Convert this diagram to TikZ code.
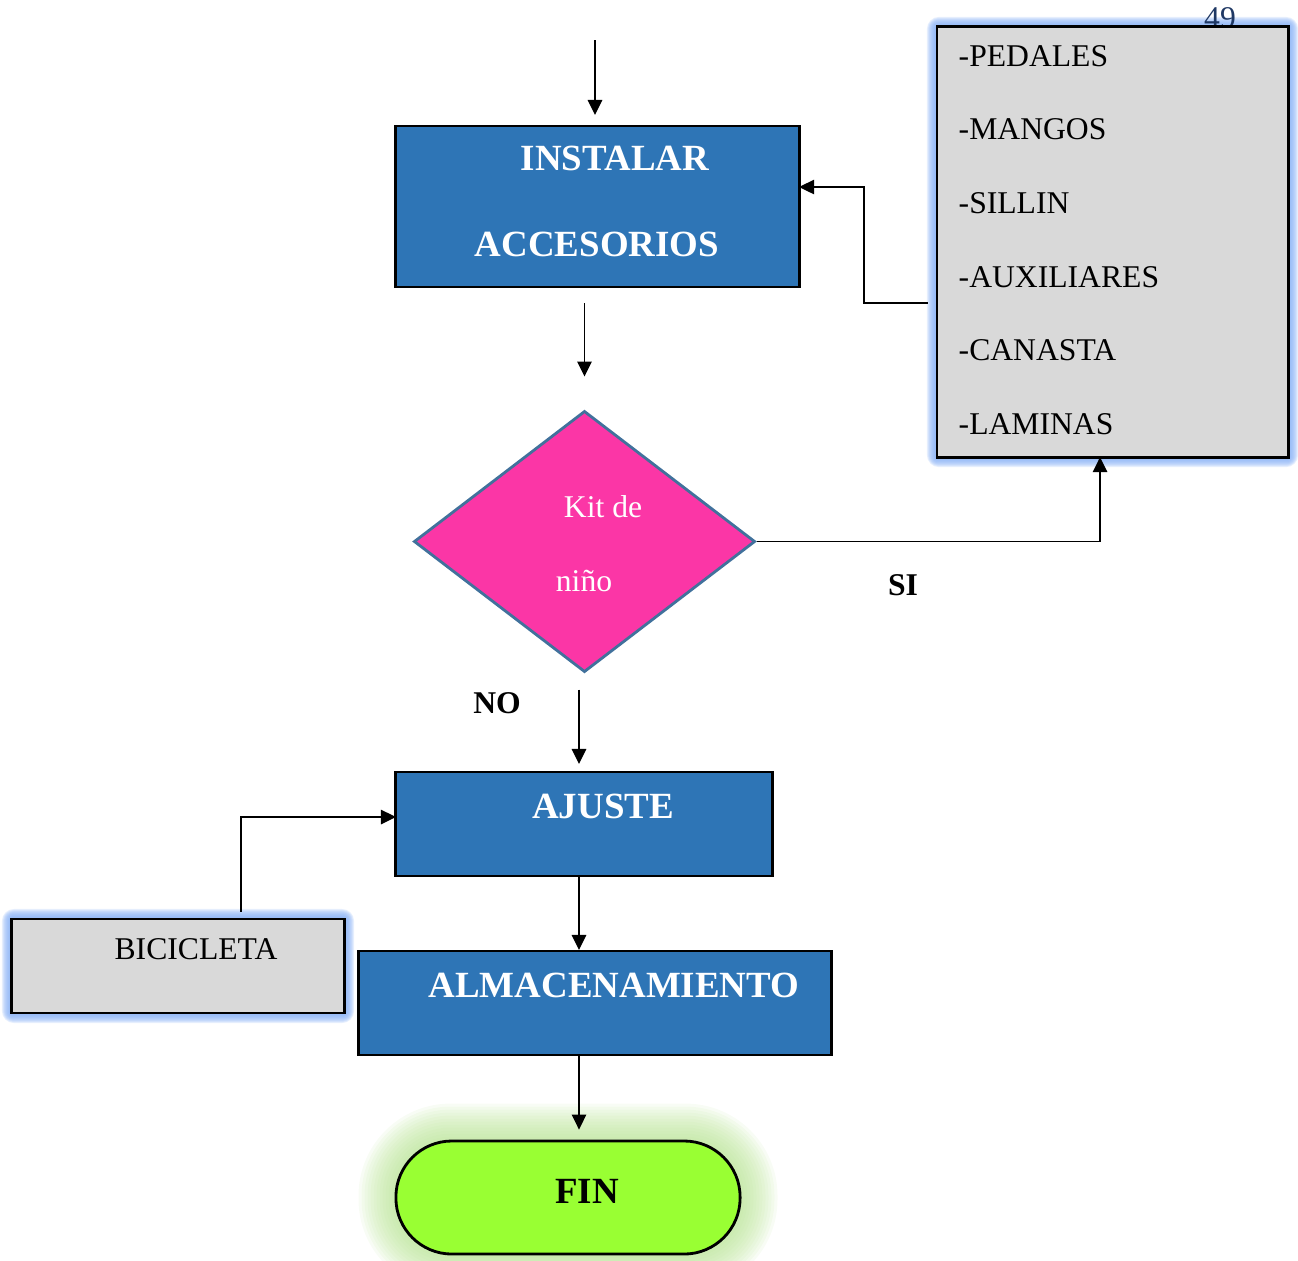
\documentclass[tikz,border=0pt]{standalone}
\usepackage{fontspec}
\setmainfont{Liberation Serif}
\usetikzlibrary{shapes.geometric,arrows.meta,backgrounds,calc}

\definecolor{azulcaja}{HTML}{2E75B6}
\definecolor{rosa}{HTML}{FB36A6}
\definecolor{bordediamante}{HTML}{41719C}
\definecolor{gris}{HTML}{D9D9D9}
\definecolor{verde}{HTML}{99FF33}
\definecolor{brilloazul}{HTML}{8AB2F6}
\definecolor{brilloverde}{HTML}{B4E28E}
\definecolor{pagina}{HTML}{1F3864}

\tikzset{
	caja/.style={draw=black, line width=0.8pt, fill=azulcaja, inner sep=0pt, outer sep=0pt},
	cajagris/.style={draw=black, line width=0.8pt, fill=gris, inner sep=0pt, outer sep=0pt},
	titulo/.style={text=white, inner sep=0pt, font=\fontsize{10.5}{12}\selectfont\bfseries},
	texto/.style={inner sep=0pt, font=\fontsize{9}{11}\selectfont},
	etiqueta/.style={inner sep=0pt, font=\fontsize{9}{11}\selectfont\bfseries},
	flecha/.style={line width=0.37pt, -{Triangle[length=1.5mm,width=1.45mm]}},
}

\begin{document}
\begin{tikzpicture}[x=0.01cm, y=-0.01cm]
\useasboundingbox (0,0) rectangle (1298,1260);

\node[texto, text=pagina] (pag) at (1220,18) {49};

\node[caja, minimum width=4.03cm, minimum height=1.61cm] (inst) at (597.5,206.5) {};
\node[titulo] (inst1) at (615,158) {INSTALAR};
\node[titulo] (inst2) at (597,244) {ACCESORIOS};

\node[diamond, draw=bordediamante, line width=0.8pt, fill=rosa, inner sep=0pt,
	minimum width=3.41cm, minimum height=2.61cm] (kit) at (584.5,541.5) {};
\node[texto, text=white] (kit1) at (603,507) {Kit de};
\node[texto, text=white] (kit2) at (584,581) {niño};

\node[caja, minimum width=3.76cm, minimum height=1.04cm] (ajuste) at (584,824) {};
\node[titulo] (ajuste1) at (603,806) {AJUSTE};

\node[caja, minimum width=4.72cm, minimum height=1.04cm] (alm) at (595,1003) {};
\node[titulo] (alm1) at (614,985) {ALMACENAMIENTO};

\node[draw=black, line width=0.8pt, fill=verde, rounded corners=5.6mm, inner sep=0pt,
	minimum width=3.44cm, minimum height=1.13cm] (fin) at (568,1197.5) {};
\node[titulo, text=black] (fin1) at (587,1191) {FIN};

\node[cajagris, minimum width=3.32cm, minimum height=0.94cm] (bici) at (178,966) {};
\node[texto] (bici1) at (196,949.5) {BICICLETA};

\node[cajagris, minimum width=3.51cm, minimum height=4.30cm] (lista) at (1112.5,242) {};
\foreach \i/\pieza in {0/PEDALES,1/MANGOS,2/SILLIN,3/AUXILIARES,4/CANASTA,5/LAMINAS}
	\node[texto, anchor=west] (pieza\i) at (958,{56+73.6*\i}) {-\pieza};

\node[etiqueta] (si) at (903,585) {SI};
\node[etiqueta] (no) at (497,703) {NO};

% brillo
\begin{pgfonlayer}{background}
\foreach \n in {lista,bici} {
	\foreach \g in {1,...,10}
		\fill[brilloazul, opacity=0.2, rounded corners=\g*0.12mm]
			($(\n.south west)+(-\g,\g)$) rectangle ($(\n.north east)+(\g,-\g)$);
}
\foreach \g in {3,6,...,36}
	\fill[brilloverde, opacity=0.09, rounded corners=5.6mm+\g*0.1mm]
		($(fin.south west)+(-\g,\g)$) rectangle ($(fin.north east)+(\g,-\g)$);
\end{pgfonlayer}

% flechas
\coordinate (inicio) at (595,40);
\draw[flecha, shorten >=1.1mm] (inicio) -- (inicio |- inst.north);
\draw[flecha, shorten <=1.6mm, shorten >=3.3mm] (kit.north |- inst.south) -- (kit.north);
\draw[flecha, shorten <=1.6mm, shorten >=0.8mm] ($(kit.south)+(-5.5,0)$) -- ($(kit.south |- ajuste.north)+(-5.5,0)$);
\draw[flecha, shorten >=0.1mm] ($(ajuste.south)+(-5,0)$) -- ($(ajuste.south |- alm.north)+(-5,0)$);
\draw[flecha, shorten >=1mm] ($(alm.south)+(-16,0)$) -- ($(alm.south |- fin.north)+(-16,0)$);
\draw[flecha, shorten <=0.7mm] ($(bici.north)+(63,0)$) |- ($(ajuste.west)+(0,-7)$);
\draw[flecha, shorten <=0.9mm] ($(lista.west)+(0,61)$) -- ++(-73,0) |- ($(inst.east)+(0,-19.5)$);
\draw[flecha] (kit.east) -| ($(lista.south)+(-12.5,0)$);
\end{tikzpicture}
\end{document}
